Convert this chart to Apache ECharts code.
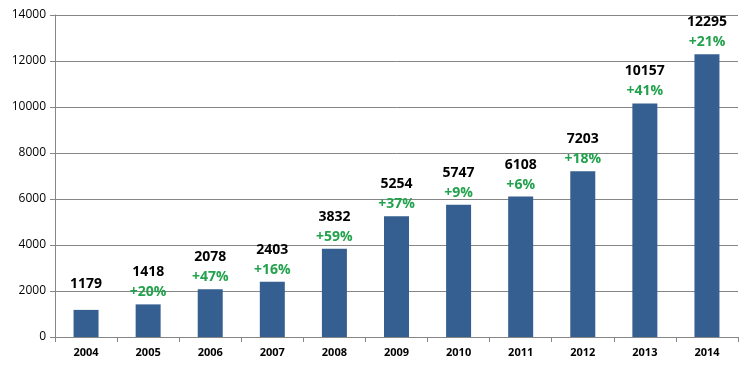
<!DOCTYPE html>
<html><head><meta charset="utf-8">
<script src="https://cdn.jsdelivr.net/npm/echarts@6/dist/echarts.min.js"></script>
<style>html,body{margin:0;padding:0;background:#fff}#c{width:756px;height:372px}</style>
</head><body><div id="c"></div>
<script>
var years = ['2004','2005','2006','2007','2008','2009','2010','2011','2012','2013','2014'];
var values = [1179,1418,2078,2403,3832,5254,5747,6108,7203,10157,12295];
var growth = ['', '+20%','+47%','+16%','+59%','+37%','+9%','+6%','+18%','+41%','+21%'];
var yTicks = [0,2000,4000,6000,8000,10000,12000,14000];

var chart = echarts.init(document.getElementById('c'));
chart.setOption({
  animation:false,
  grid:{left:55,right:18,top:15,bottom:35},
  xAxis:{type:'category',data:years,
    axisLine:{lineStyle:{color:'#868686'}},
    axisTick:{show:true,alignWithLabel:false,length:5,lineStyle:{color:'#868686'}},
    axisLabel:{color:'#000',fontWeight:'bold',fontSize:11,fontFamily:'Open Sans',margin:10}},
  yAxis:{type:'value',min:yTicks[0],max:yTicks[yTicks.length-1],interval:2000,
    axisLine:{show:true,lineStyle:{color:'#868686'}},
    axisTick:{show:true,length:5,lineStyle:{color:'#868686'}},
    splitLine:{lineStyle:{color:'#868686'}},
    axisLabel:{color:'#000',fontSize:12,fontFamily:'Open Sans',margin:9,formatter:function(v){return String(v);}}},
  series:[{type:'bar',data:values,barWidth:25,
    itemStyle:{color:'#365F91'},
    label:{show:true,position:'top',distance:2,
      formatter:function(p){var g=growth[p.dataIndex];return '{v|'+p.value+'}'+(g?'\n{p|'+g+'}':'\n{e|}');},
      rich:{v:{fontSize:14,fontWeight:'bold',color:'#000',fontFamily:'Open Sans',lineHeight:20},
            p:{fontSize:14,fontWeight:'bold',color:'#22A24C',fontFamily:'Open Sans',lineHeight:20},
            e:{lineHeight:14}}}}]
});
</script></body></html>
